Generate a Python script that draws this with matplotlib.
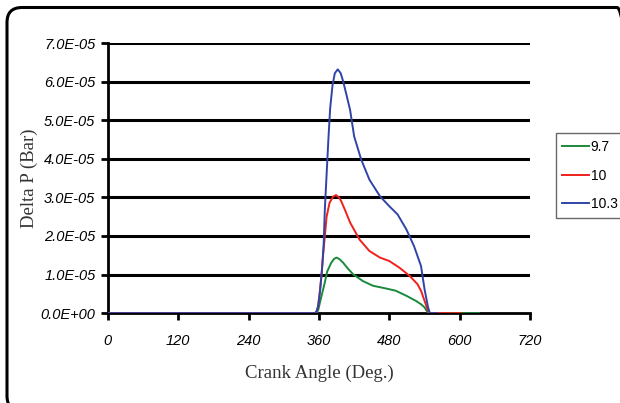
import numpy as np
import matplotlib
matplotlib.use("Agg")
from matplotlib import pyplot as plt
from matplotlib.patches import FancyBboxPatch
from matplotlib.transforms import IdentityTransform

# Data (values in units of 1e-5 bar)
x_blue = [0, 350, 353, 356, 359, 362, 365, 368, 370, 373, 376, 379, 383, 387, 392,
          397, 401, 407, 413, 420, 432, 446, 464, 480, 494, 509, 522, 534, 540, 546,
          549, 561]
y_blue = [0, 0, 0, 0.05, 0.2, 0.6, 1.1, 1.8, 2.7, 3.6, 4.5, 5.3, 5.9, 6.22, 6.32,
          6.22, 6.02, 5.65, 5.27, 4.58, 3.98, 3.46, 3.03, 2.77, 2.56, 2.17, 1.74,
          1.22, 0.62, 0.15, 0, 0]

x_red = [0, 352, 355, 358, 361, 364, 367, 370, 373, 378, 384, 389, 394, 398, 405,
         413, 429, 446, 464, 480, 497, 515, 528, 534, 540, 545, 548, 602]
y_red = [0, 0, 0, 0.15, 0.5, 0.95, 1.5, 2.0, 2.5, 2.86, 3.02, 3.06, 3.0, 2.90, 2.65,
         2.35, 1.91, 1.61, 1.44, 1.35, 1.18, 0.96, 0.75, 0.58, 0.32, 0.1, 0, 0]

x_green = [0, 353, 356, 359, 362, 366, 370, 374, 381, 386, 390, 395, 401, 409, 418,
           435, 452, 474, 491, 509, 525, 534, 540, 544, 547, 633]
y_green = [0, 0, 0, 0.1, 0.3, 0.55, 0.8, 1.08, 1.31, 1.41, 1.44, 1.40, 1.31, 1.16,
           1.01, 0.83, 0.71, 0.64, 0.58, 0.45, 0.32, 0.23, 0.15, 0.05, 0, 0]

labels = ["9.7", "10", "10.3"]
xticks = [0, 120, 240, 360, 480, 600, 720]
yticks = np.arange(0, 7.01e-5, 1e-5)

fig = plt.figure(figsize=(6.2, 4.03), dpi=100)
ax = fig.add_axes([0.174, 0.223, 0.681, 0.670])

for yv in yticks[1:]:
    ax.axhline(yv, color="black", lw=2.2, zorder=1)

ax.plot(x_green, np.array(y_green) * 1e-5, color="#1a8a3a", lw=1.4, label=labels[0], zorder=3)
ax.plot(x_red, np.array(y_red) * 1e-5, color="#f0201a", lw=1.4, label=labels[1], zorder=4)
ax.plot(x_blue, np.array(y_blue) * 1e-5, color="#3044a8", lw=1.4, label=labels[2], zorder=5)

ax.set_xlim(0, 720)
ax.set_ylim(0, 7e-5)
ax.set_xticks(xticks)
ax.set_yticks(yticks)
ax.set_xticklabels([str(v) for v in xticks])
ax.set_yticklabels(["%.1fE%s" % (v / 1e-5, "+00" if v == 0 else "-05") for v in yticks])
for lab in ax.get_xticklabels() + ax.get_yticklabels():
    lab.set_fontfamily("Liberation Sans")
    lab.set_fontstyle("italic")
    lab.set_fontsize(10.5)
ax.tick_params(axis="both", direction="out", length=5, width=2)
ax.tick_params(axis="y", pad=4)
ax.tick_params(axis="x", pad=10)
for s in ["top", "right"]:
    ax.spines[s].set_visible(False)
for s in ["left", "bottom"]:
    ax.spines[s].set_linewidth(2)

ax.set_xlabel("Crank Angle (Deg.)", family="Liberation Serif", fontsize=13.5, color="#333333")
ax.xaxis.set_label_coords(0.5, -0.19)
ax.set_ylabel("Delta P (Bar)", family="Liberation Serif", fontsize=13.5, color="#333333")
ax.yaxis.set_label_coords(-0.165, 0.5)

leg = fig.legend(loc="upper left", bbox_to_anchor=(0.896, 0.670), frameon=True, fancybox=False,
                 prop={"family": "Liberation Sans", "size": 10}, handlelength=1.9,
                 handletextpad=0.12, borderpad=0.5, labelspacing=1.05, borderaxespad=0)
leg.get_frame().set_edgecolor("#444444")
leg.get_frame().set_linewidth(1)

# rounded frame round the whole chart, running off the right and bottom edges
border = FancyBboxPatch((7, -8), 625, 403.5, boxstyle="round,pad=0,rounding_size=15",
                        transform=IdentityTransform(), fill=False, edgecolor="black", lw=2.2,
                        clip_on=False)
fig.patches.append(border)

fig.savefig("out.png", dpi=100)
